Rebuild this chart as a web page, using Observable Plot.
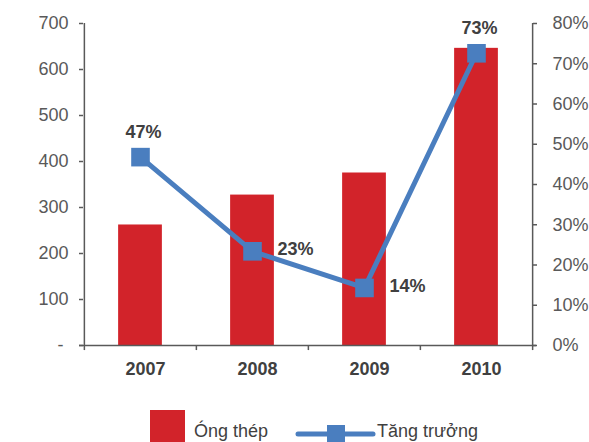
<!DOCTYPE html>
<html>
<head>
<meta charset="utf-8">
<script src="https://cdn.jsdelivr.net/npm/d3@7"></script>
<script src="https://cdn.jsdelivr.net/npm/@observablehq/plot@0.6"></script>
<style>
  html, body { margin: 0; padding: 0; background: #fff; overflow: hidden; }
  #wrap { width: 589px; height: 442px; position: relative; font-family: "Liberation Sans", Arial, sans-serif; }
  #legend { position: absolute; left: 0; top: 400px; width: 589px; height: 42px; overflow: hidden; }
</style>
</head>
<body>
<div id="wrap">
  <div id="chart"></div>
  <div id="legend"></div>
</div>
<script>
const years = ["2007", "2008", "2009", "2010"];
const pipeVolume = [262, 327, 375, 646];
const growthPct = [46.8, 23.4, 14.3, 72.6];
const leftTicks = [0, 100, 200, 300, 400, 500, 600, 700];
const rightTicks = [0, 10, 20, 30, 40, 50, 60, 70, 80];
const seriesNames = ["Óng thép", "Tăng trưởng"];

const RED = "#D2232A";
const BLUE = "#4A7EBF";
const GRAY = "#595959";
const DARK = "#404040";
const FONT = "Liberation Sans, Arial, sans-serif";

const ratio = 700 / 80; // right axis % -> left axis units
const data = years.map((y, i) => ({year: y, vol: pipeVolume[i], g: growthPct[i], gy: growthPct[i] * ratio, label: Math.round(growthPct[i]) + "%"}));

const W = 589, H = 400;
const mL = 83, mR = 57, mT = 23, mB = H - 345;
const band = (W - mL - mR) / years.length;

const chart = Plot.plot({
  width: W,
  height: H,
  marginLeft: mL,
  marginRight: mR,
  marginTop: mT,
  marginBottom: mB,
  style: {fontFamily: FONT, fontSize: "18px", background: "#fff"},
  x: {domain: years, padding: 0, axis: null},
  y: {domain: [0, 700], axis: null},
  marks: [
    Plot.barY(data, {x: "year", y: "vol", fill: RED, insetLeft: (band - 44) / 2, insetRight: (band - 44) / 2}),
    // axis lines
    Plot.ruleX([years[0]], {dx: -band / 2, y1: 0, y2: 700, stroke: GRAY, strokeWidth: 1.5}),
    Plot.ruleX([years[years.length - 1]], {dx: band / 2, y1: 0, y2: 700, stroke: GRAY, strokeWidth: 1.5}),
    Plot.ruleY([0], {stroke: GRAY, strokeWidth: 1.5, insetLeft: -4, insetRight: -4}),
    // bottom ticks at category boundaries
    Plot.ruleX(years, {dx: -band / 2, y1: 0, y2: -11, stroke: GRAY, strokeWidth: 1.5}),
    Plot.ruleX([years[years.length - 1]], {dx: band / 2, y1: 0, y2: -11, stroke: GRAY, strokeWidth: 1.5}),
    // left axis
    Plot.axisY({anchor: "left", ticks: leftTicks, tickSize: 4, tickPadding: 11, stroke: GRAY, strokeWidth: 1.5, color: GRAY,
      tickFormat: d => d === 0 ? "-\u00a0" : String(d), fontSize: 18}),
    // right axis (growth %)
    Plot.axisY({anchor: "right", ticks: rightTicks.map(t => t * ratio), tickSize: 4, tickPadding: 16, stroke: GRAY, strokeWidth: 1.5, color: GRAY,
      tickFormat: d => Math.round(d / ratio) + "%", fontSize: 18}),
    // x labels
    Plot.text(data, {x: "year", y: 0, text: "year", dy: 24, dx: 5, fill: DARK, fontWeight: "bold", fontSize: 18, lineAnchor: "middle"}),
    // growth line
    Plot.line(data, {x: "year", y: "gy", stroke: BLUE, strokeWidth: 5}),
    Plot.dot(data, {x: "year", y: "gy", symbol: "square", r: 10.5, fill: BLUE, stroke: "none"}),
    // data labels
    Plot.text(data.filter(d => d.year === "2007" || d.year === "2010"), {x: "year", y: "gy", text: "label", dy: -25, dx: 3, fill: DARK, fontWeight: "bold", fontSize: 18, lineAnchor: "middle"}),
    Plot.text(data.filter(d => d.year === "2008" || d.year === "2009"), {x: "year", y: "gy", text: "label", dx: 25, dy: -2, textAnchor: "start", fill: DARK, fontWeight: "bold", fontSize: 18, lineAnchor: "middle"})
  ]
});
document.getElementById("chart").appendChild(chart);

// legend
const ns = "http://www.w3.org/2000/svg";
const lg = document.createElementNS(ns, "svg");
lg.setAttribute("width", 589);
lg.setAttribute("height", 42);
lg.style.display = "block";
lg.innerHTML = `
  <rect x="150" y="10" width="35" height="35" fill="${RED}"/>
  <text x="194" y="37" font-family="${FONT}" font-size="18" fill="${DARK}">${seriesNames[0]}</text>
  <line x1="298" y1="34" x2="373" y2="34" stroke="${BLUE}" stroke-width="5" stroke-linecap="round"/>
  <rect x="327" y="25" width="18" height="18" fill="${BLUE}"/>
  <text x="377" y="37" font-family="${FONT}" font-size="18" fill="${DARK}">${seriesNames[1]}</text>
`;
document.getElementById("legend").appendChild(lg);
</script>
</body>
</html>
